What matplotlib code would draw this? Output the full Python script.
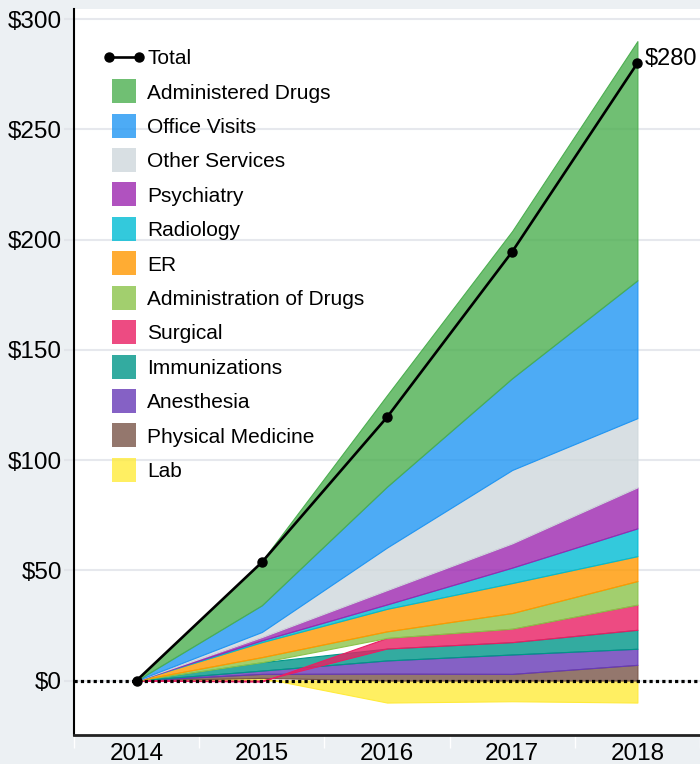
import numpy as np
import matplotlib
matplotlib.use('Agg')
import matplotlib.pyplot as plt
from matplotlib.colors import to_rgba
from matplotlib.lines import Line2D
from matplotlib.legend_handler import HandlerLine2D

plt.rcParams['font.family'] = ['Liberation Sans', 'DejaVu Sans']

years = [2014, 2015, 2016, 2017, 2018]

# stacking order, bottom to top
categories = ['Lab', 'Physical Medicine', 'Anesthesia', 'Immunizations', 'Surgical',
              'Administration of Drugs', 'ER', 'Radiology', 'Psychiatry',
              'Other Services', 'Office Visits', 'Administered Drugs']
colors = ['#FFEB3B', '#795548', '#673AB7', '#009688', '#E91E63', '#8BC34A',
          '#FF9800', '#00BCD4', '#9C27B0', '#CFD8DC', '#2196F3', '#4CAF50']

lab = [0, 1.2, -10.0, -9.4, -10.0]
physical_medicine = [0, 1.8, 3.1, 3.0, 7.1]
anesthesia = [0, 1.5, 6.0, 8.8, 7.3]
immunizations = [0, 3.8, 5.4, 5.6, 8.6]
surgical = [0, -0.5, 4.8, 6.1, 11.4]
administration_of_drugs = [0, 2.3, 3.0, 7.1, 10.7]
er = [0, 6.8, 10.2, 13.6, 11.3]
radiology = [0, 0.8, 2.0, 7.0, 12.6]
psychiatry = [0, 1.5, 6.5, 11.0, 18.6]
other_services = [0, 2.3, 19.3, 33.3, 31.4]
office_visits = [0, 12.1, 27.6, 41.6, 62.5]
administered_drugs = [0, 20.0, 41.5, 66.8, 108.5]

series = [lab, physical_medicine, anesthesia, immunizations, surgical,
          administration_of_drugs, er, radiology, psychiatry, other_services,
          office_visits, administered_drugs]

bg = '#ecf0f3'
fig = plt.figure(figsize=(7, 7.64), dpi=100, facecolor=bg)
ax = fig.add_axes([0.1057, 0.038, 0.8943, 0.95])
ax.set_facecolor('white')

x = np.array(years, dtype=float)
pos = np.zeros(len(x))
neg = np.zeros(len(x))
handles = []
for name, vals, c in zip(categories, series, colors):
    v = np.array(vals, dtype=float)
    # positives stack upward from zero, negatives downward
    base = np.where(v >= 0, pos, neg)
    top = base + v
    ax.fill_between(x, base, top, facecolor=to_rgba(c, 0.8), edgecolor=c, lw=0.8, zorder=2)
    pos = np.where(v >= 0, top, pos)
    neg = np.where(v < 0, top, neg)
    handles.append(Line2D([], [], ls='', marker='s', ms=17, color=to_rgba(c, 0.8),
                          markeredgewidth=0, label=name))

total = np.sum(np.array(series), axis=0)
ax.axhline(0, color='black', lw=2.3, ls=(0, (1, 1)), zorder=3)
tot_line, = ax.plot(x, total, color='black', lw=1.9, marker='o', ms=6.5, zorder=4, label='Total')
ax.annotate('$%d' % round(total[-1]), (x[-1], total[-1]), xytext=(5, 3),
            textcoords='offset points', ha='left', va='center', fontsize=17, zorder=5)

ax.set_xlim(2013.5, 2018.49)
ax.set_ylim(-24.7, 304.5)
ax.set_xticks(years)
ax.set_xticks(np.arange(2013.5, 2019, 1.0), minor=True)
ax.set_yticks(np.arange(0, 301, 50))
ax.set_yticklabels(['$%d' % v for v in range(0, 301, 50)])
ax.tick_params(axis='x', which='major', length=0, pad=6, labelsize=17.5)
ax.tick_params(axis='x', which='minor', length=9, width=1, color='white')
ax.tick_params(axis='y', length=7, width=1.5, color='#e2e5ea', pad=1.5, labelsize=17.5)
ax.yaxis.grid(True, color='#e6e8ed', lw=1.5)
ax.set_axisbelow(True)

for s in ['top', 'right']:
    ax.spines[s].set_visible(False)
ax.spines['left'].set_linewidth(1.5)
ax.spines['bottom'].set_linewidth(2)
ax.spines['bottom'].set_color('#222222')

leg_handles = [tot_line] + handles[::-1]
hmap = {tot_line: HandlerLine2D(numpoints=2, marker_pad=0.25)}
for h in handles:
    hmap[h] = HandlerLine2D(numpoints=1)
ax.legend(handles=leg_handles, handler_map=hmap, loc='upper left',
          bbox_to_anchor=(0.047, 0.945), frameon=False, fontsize=15,
          labelspacing=0.74, handlelength=1.95, handletextpad=0.15,
          borderpad=0, borderaxespad=0)

fig.savefig('out.png', dpi=100, facecolor=bg)
